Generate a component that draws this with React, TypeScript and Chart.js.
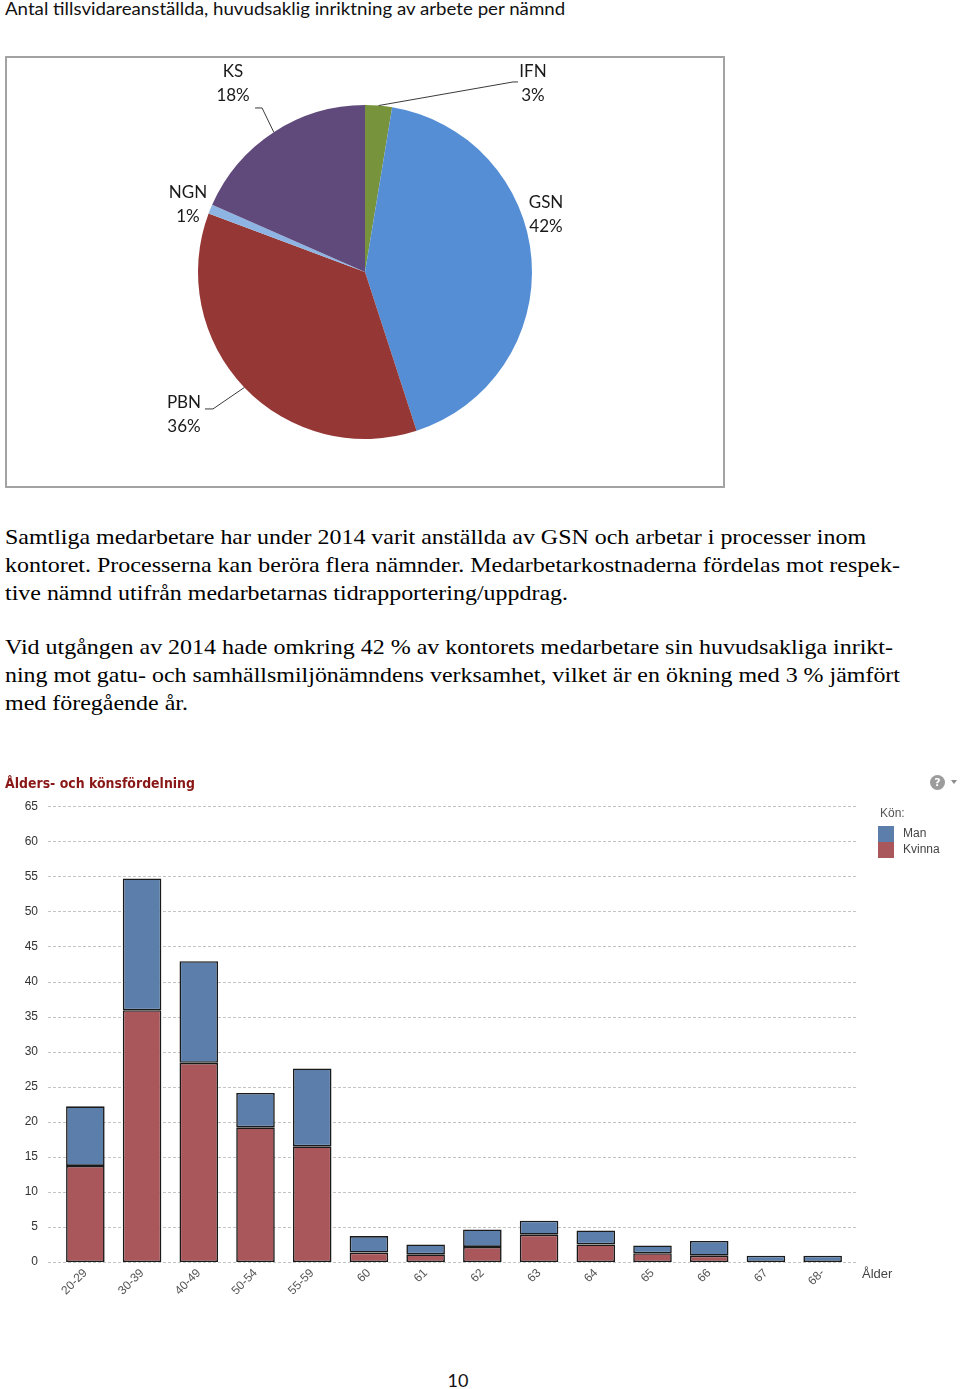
import React, { useEffect, useRef } from "react";
import { Chart, registerables } from "chart.js";

Chart.register(...registerables);

// ---------- Data ----------
const PIE_LABELS = ["IFN", "GSN", "PBN", "NGN", "KS"];
const PIE_VALUES = [2.6, 42.4, 35.7, 0.9, 18.4];
const PIE_COLORS = ["#77933C", "#558ED5", "#953735", "#8EB4E3", "#604A7B"];

const AGE_GROUPS = ["20-29", "30-39", "40-49", "50-54", "55-59", "60", "61", "62", "63", "64", "65", "66", "67", "68-"];
const KVINNA = [13.7, 35.9, 28.4, 19.2, 16.5, 1.35, 1.1, 2.15, 3.9, 2.5, 1.25, 0.9, 0, 0];
const MAN = [8.5, 18.8, 14.5, 4.9, 11.1, 2.35, 1.4, 2.5, 2.0, 2.0, 1.1, 2.1, 0.9, 0.9];
const Y_MIN = 0;
const Y_MAX = 65;
const Y_STEP = 5;

const TITLE_TEXT = "Antal tillsvidareanställda, huvudsaklig inriktning av arbete per nämnd";
const PARA_1 = [
  "Samtliga medarbetare har under 2014 varit anställda av GSN och arbetar i processer inom",
  "kontoret. Processerna kan beröra flera nämnder. Medarbetarkostnaderna fördelas mot respek-",
  "tive nämnd utifrån medarbetarnas tidrapportering/uppdrag.",
];
const PARA_2 = [
  "Vid utgången av 2014 hade omkring 42 % av kontorets medarbetare sin huvudsakliga inrikt-",
  "ning mot gatu- och samhällsmiljönämndens verksamhet, vilket är en ökning med 3 % jämfört",
  "med föregående år.",
];

// ---------- Layout / style config ----------
const MAN_COLOR = "#5B7FAA";
const KVINNA_COLOR = "#A9575A";
const BAR_BORDER = "#1a1a1a";

// label placement relative to pie center, in units of radius; leader: [elbowDx, elbowDy, endDx]
const PIE_LABEL_PLACE = [
  { dx: 1.006, dy: -1.126, leader: [-20, -2, -15] },
  { dx: 1.084, dy: -0.347, leader: null },
  { dx: -1.084, dy: 0.856, leader: [29, -6, 21] },
  { dx: -1.06, dy: -0.407, leader: null },
  { dx: -0.79, dy: -1.126, leader: [29, 24, 22] },
];

let measureCtx: CanvasRenderingContext2D | null = null;
function measure(text: string, font: string): number {
  if (!measureCtx) measureCtx = document.createElement("canvas").getContext("2d");
  measureCtx!.font = font;
  return measureCtx!.measureText(text).width;
}

function FitText(props: { text: string; x: number; top: number; width: number; font: string; color?: string; lh: number }) {
  const { text, x, top, width, font, color, lh } = props;
  const w = measure(text, font);
  const s = width / w;
  return (
    <div
      style={{
        position: "absolute",
        left: x,
        top,
        whiteSpace: "pre",
        font,
        lineHeight: `${lh}px`,
        color: color || "#000",
        transform: `scaleX(${s})`,
        transformOrigin: "left top",
      }}
    >
      {text}
    </div>
  );
}

const pieLabelPlugin = {
  id: "pieLabels",
  afterDatasetsDraw(chart: any) {
    const ctx = chart.ctx;
    const meta = chart.getDatasetMeta(0);
    const total = PIE_VALUES.reduce((a, b) => a + b, 0);
    ctx.save();
    meta.data.forEach((arc: any, i: number) => {
      const p = arc.getProps(["x", "y", "outerRadius", "startAngle", "endAngle"], true);
      const pl = PIE_LABEL_PLACE[i];
      const lx = p.x + pl.dx * p.outerRadius;
      const ly = p.y + pl.dy * p.outerRadius;
      if (pl.leader) {
        const mid = (p.startAngle + p.endAngle) / 2;
        const ax = p.x + Math.cos(mid) * p.outerRadius;
        const ay = p.y + Math.sin(mid) * p.outerRadius;
        ctx.strokeStyle = "#3a3a3a";
        ctx.lineWidth = 1;
        ctx.beginPath();
        ctx.moveTo(ax, ay);
        ctx.lineTo(lx + pl.leader[0], ly + pl.leader[1]);
        ctx.lineTo(lx + pl.leader[2], ly + pl.leader[1]);
        ctx.stroke();
      }
      ctx.fillStyle = "#1a1a1a";
      ctx.font = "17px Lato";
      ctx.textAlign = "center";
      ctx.textBaseline = "middle";
      ctx.fillText(PIE_LABELS[i], lx, ly - 12);
      ctx.fillText(Math.round((PIE_VALUES[i] / total) * 100) + "%", lx, ly + 12);
    });
    ctx.restore();
  },
};

const dashGridPlugin = {
  id: "dashGrid",
  beforeDatasetsDraw(chart: any) {
    const { ctx, chartArea, scales } = chart;
    const y = scales.y;
    ctx.save();
    ctx.strokeStyle = "#c4c4c4";
    ctx.lineWidth = 1;
    ctx.setLineDash([3, 2]);
    y.ticks.forEach((t: any) => {
      const py = Math.round(y.getPixelForValue(t.value)) + 0.5;
      ctx.beginPath();
      ctx.moveTo(chartArea.left - 9, py);
      ctx.lineTo(chartArea.right + 7, py);
      ctx.stroke();
    });
    ctx.restore();
  },
};

function PieChart() {
  const ref = useRef<HTMLCanvasElement>(null);
  useEffect(() => {
    const chart = new Chart(ref.current!, {
      type: "pie",
      data: {
        labels: PIE_LABELS,
        datasets: [{ data: PIE_VALUES, backgroundColor: PIE_COLORS, borderWidth: 0 }],
      },
      options: {
        animation: false,
        responsive: false,
        maintainAspectRatio: false,
        layout: { padding: { top: 47, bottom: 47, left: 0, right: 0 } },
        plugins: { legend: { display: false }, tooltip: { enabled: false } },
      },
      plugins: [pieLabelPlugin],
    } as any);
    return () => chart.destroy();
  }, []);
  return <canvas ref={ref} width={716} height={428} style={{ position: "absolute", left: 0, top: 0, width: 716, height: 428 }} />;
}

function BarChart() {
  const ref = useRef<HTMLCanvasElement>(null);
  useEffect(() => {
    const tickFont = { family: "'Liberation Sans', Arial, sans-serif", size: 12 };
    const common = {
      borderColor: BAR_BORDER,
      borderWidth: 1.6,
      borderSkipped: false,
      categoryPercentage: 1,
      barPercentage: 0.68,
    };
    const chart = new Chart(ref.current!, {
      type: "bar",
      data: {
        labels: AGE_GROUPS,
        datasets: [
          { label: "Kvinna", data: KVINNA, backgroundColor: KVINNA_COLOR, ...common },
          { label: "Man", data: MAN, backgroundColor: MAN_COLOR, ...common },
        ],
      },
      options: {
        animation: false,
        responsive: false,
        maintainAspectRatio: false,
        layout: { padding: { left: 0, right: 109, top: 6, bottom: 0 } },
        plugins: { legend: { display: false }, tooltip: { enabled: false } },
        scales: {
          x: {
            stacked: true,
            grid: { display: false, drawTicks: false },
            border: { display: false },
            ticks: { minRotation: 45, maxRotation: 45, font: tickFont, color: "#555", padding: 4 },
            afterFit: (s: any) => {
              s.height = 48;
            },
          },
          y: {
            stacked: true,
            min: Y_MIN,
            max: Y_MAX,
            ticks: { stepSize: Y_STEP, font: tickFont, color: "#333", padding: 19 },
            grid: { display: false, drawTicks: false },
            border: { display: false },
            afterFit: (s: any) => {
              s.width = 57;
            },
          },
        },
      },
      plugins: [dashGridPlugin],
    } as any);
    return () => chart.destroy();
  }, []);
  return <canvas ref={ref} width={960} height={530} style={{ position: "absolute", left: 0, top: 780, width: 960, height: 530 }} />;
}

export default function App() {
  const serif = "22px 'Liberation Serif', 'Times New Roman', serif";
  const p1Targets = [861, 895, 563];
  const p2Targets = [888, 895, 183];
  const p1Tops = [523, 551, 579];
  const p2Tops = [633, 661, 689];
  return (
    <div style={{ position: "absolute", left: 0, top: 0, width: 960, height: 1389, background: "#fff", overflow: "hidden" }}>
      <FitText text={TITLE_TEXT} x={5} top={-3} width={561} font="18px Lato" lh={22} color="#111" />

      <div
        style={{
          position: "absolute",
          left: 5,
          top: 56,
          width: 720,
          height: 432,
          boxSizing: "border-box",
          border: "2px solid #a3a3a3",
          background: "#fff",
        }}
      >
        <PieChart />
      </div>

      {PARA_1.map((t, i) => (
        <FitText key={"a" + i} text={t} x={5} top={p1Tops[i]} width={p1Targets[i]} font={serif} lh={28} />
      ))}
      {PARA_2.map((t, i) => (
        <FitText key={"b" + i} text={t} x={5} top={p2Tops[i]} width={p2Targets[i]} font={serif} lh={28} />
      ))}

      <BarChart />

      <FitText text="Ålders- och könsfördelning" x={5} top={774} width={190} font="bold 13.5px 'DejaVu Sans'" lh={18} color="#8a1717" />

      <div
        style={{
          position: "absolute",
          left: 930,
          top: 775,
          width: 15,
          height: 15,
          borderRadius: "50%",
          background: "#9c9c9c",
          color: "#fff",
          font: "bold 11px 'DejaVu Sans'",
          lineHeight: "15px",
          textAlign: "center",
        }}
      >
        ?
      </div>
      <div
        style={{
          position: "absolute",
          left: 951,
          top: 780,
          width: 0,
          height: 0,
          borderLeft: "3.5px solid transparent",
          borderRight: "3.5px solid transparent",
          borderTop: "4px solid #8a8a8a",
        }}
      />

      <div style={{ position: "absolute", left: 880, top: 806, font: "12px 'Liberation Sans', Arial", color: "#555" }}>Kön:</div>
      <div style={{ position: "absolute", left: 878, top: 826, width: 16, height: 16, background: MAN_COLOR }} />
      <div style={{ position: "absolute", left: 878, top: 842, width: 16, height: 16, background: KVINNA_COLOR }} />
      <div style={{ position: "absolute", left: 903, top: 826, font: "12px 'Liberation Sans', Arial", color: "#444" }}>Man</div>
      <div style={{ position: "absolute", left: 903, top: 842, font: "12px 'Liberation Sans', Arial", color: "#444" }}>Kvinna</div>
      <div style={{ position: "absolute", left: 862, top: 1266, font: "13px 'Liberation Sans', Arial", color: "#444" }}>Ålder</div>

      <div style={{ position: "absolute", left: 438, width: 40, top: 1369, textAlign: "center", font: "18px Lato", color: "#111" }}>10</div>
    </div>
  );
}
